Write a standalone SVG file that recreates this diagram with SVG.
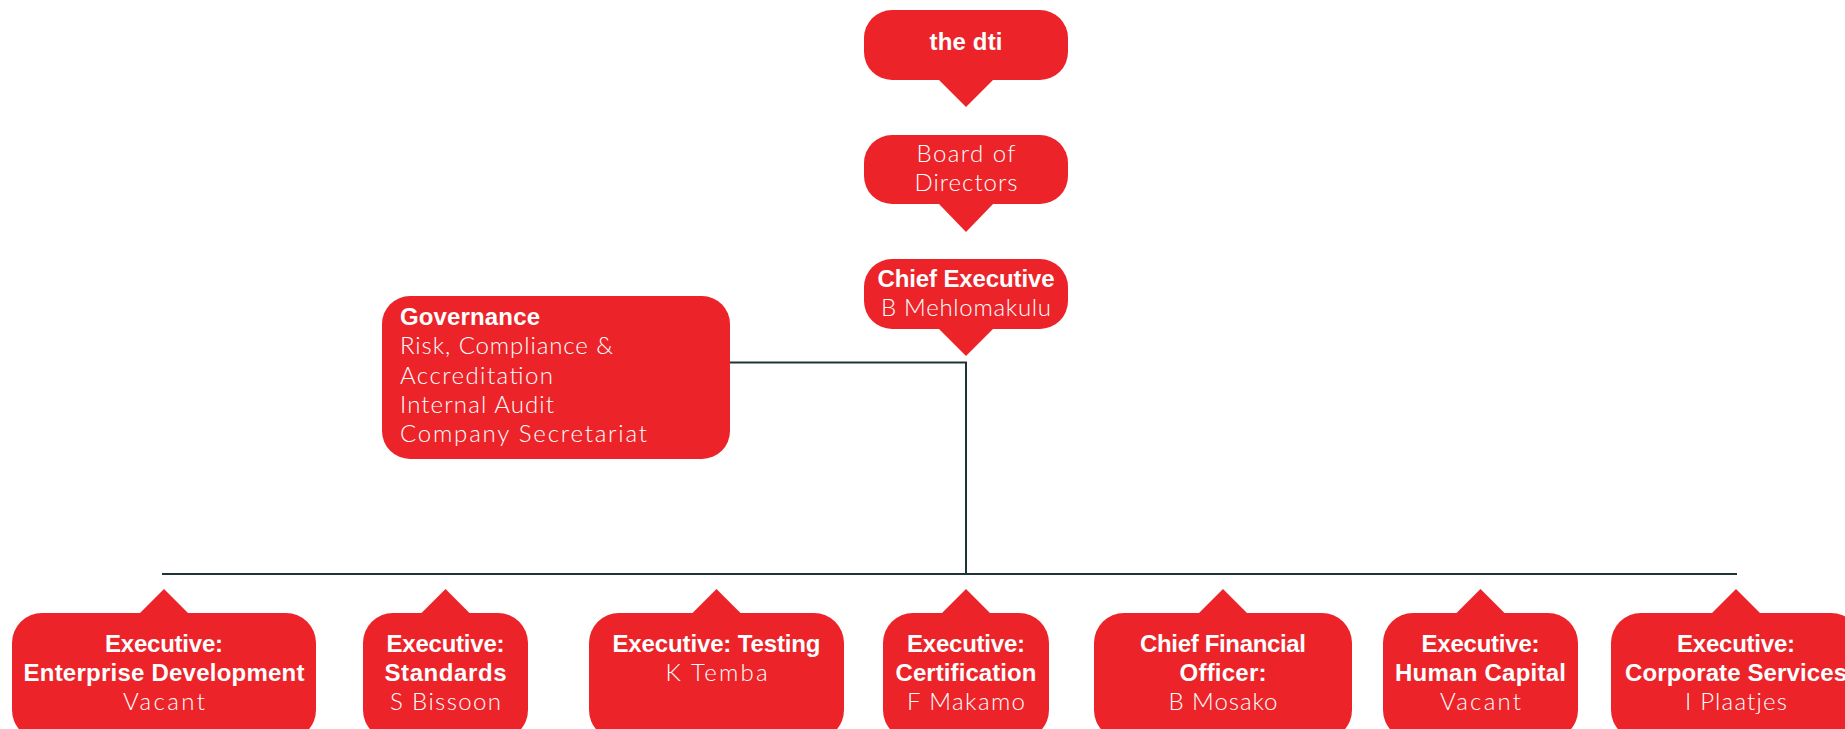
<svg xmlns="http://www.w3.org/2000/svg" width="1845" height="729" viewBox="0 0 1845 729">
  <style>
    .box { fill: #ec242a; }
    .t { fill: #ffffff; font-family: "Liberation Sans", Arial, sans-serif; font-size: 24px; text-anchor: middle; }
    .b { font-weight: 700; }
    .l { font-family: Lato, "Liberation Sans", sans-serif; font-weight: 300; }
    .left { text-anchor: start; }
    .wire { fill: none; stroke: #1f3535; stroke-width: 2; }
  </style>
  <rect width="1845" height="729" fill="#ffffff"/>

  <!-- connectors -->
  <g id="connectors">
    <path class="wire" d="M730,362.5 H966 V574"/>
    <path class="wire" d="M162,574 H1737"/>
  </g>

  <!-- top chain -->
  <g id="dti">
    <rect class="box" x="864" y="10" width="204" height="70" rx="28"/>
    <polygon class="box" points="938,79 994,79 966,107"/>
    <text class="t b" x="966" y="50" textLength="73">the dti</text>
  </g>
  <g id="board">
    <rect class="box" x="864" y="135" width="204" height="69" rx="28"/>
    <polygon class="box" points="938,203 994,203 966,232"/>
    <text class="t l" x="966" y="162" textLength="99">Board of</text>
    <text class="t l" x="966" y="191" textLength="103">Directors</text>
  </g>
  <g id="ceo">
    <rect class="box" x="864" y="259" width="204" height="70" rx="28"/>
    <polygon class="box" points="938,328 994,328 966,356"/>
    <text class="t b" x="966" y="287" textLength="177">Chief Executive</text>
    <text class="t l" x="966" y="316" textLength="170">B Mehlomakulu</text>
  </g>

  <g id="governance">
    <rect class="box" x="382" y="296" width="348" height="163" rx="28"/>
    <text class="t b left" x="400" y="325" textLength="140">Governance</text>
    <text class="t l left" x="400" y="354" textLength="213">Risk, Compliance &amp;</text>
    <text class="t l left" x="400" y="384" textLength="153">Accreditation</text>
    <text class="t l left" x="400" y="413" textLength="154">Internal Audit</text>
    <text class="t l left" x="400" y="442" textLength="247">Company Secretariat</text>
  </g>

  <!-- executive row -->
  <g id="enterprise">
    <rect class="box" x="12" y="613" width="304" height="127" rx="30"/>
    <polygon class="box" points="139,614 189,614 164,589"/>
    <text class="t b" x="164" y="652" textLength="118">Executive:</text>
    <text class="t b" x="164" y="681" textLength="281">Enterprise Development</text>
    <text class="t l" x="164" y="710" textLength="82">Vacant</text>
  </g>
  <g id="standards">
    <rect class="box" x="363" y="613" width="165" height="127" rx="30"/>
    <polygon class="box" points="420.5,614 470.5,614 445.5,589"/>
    <text class="t b" x="445.5" y="652" textLength="118">Executive:</text>
    <text class="t b" x="445.5" y="681" textLength="122">Standards</text>
    <text class="t l" x="445.5" y="710" textLength="111">S Bissoon</text>
  </g>
  <g id="testing">
    <rect class="box" x="589" y="613" width="255" height="127" rx="30"/>
    <polygon class="box" points="691.5,614 741.5,614 716.5,589"/>
    <text class="t b" x="716.5" y="652" textLength="208">Executive: Testing</text>
    <text class="t l" x="716.5" y="681" textLength="102">K Temba</text>
  </g>
  <g id="certification">
    <rect class="box" x="883" y="613" width="166" height="127" rx="30"/>
    <polygon class="box" points="941,614 991,614 966,589"/>
    <text class="t b" x="966" y="652" textLength="118">Executive:</text>
    <text class="t b" x="966" y="681" textLength="141">Certification</text>
    <text class="t l" x="966" y="710" textLength="118">F Makamo</text>
  </g>
  <g id="cfo">
    <rect class="box" x="1094" y="613" width="258" height="127" rx="30"/>
    <polygon class="box" points="1198,614 1248,614 1223,589"/>
    <text class="t b" x="1223" y="652" textLength="166">Chief Financial</text>
    <text class="t b" x="1223" y="681" textLength="87">Officer:</text>
    <text class="t l" x="1223" y="710" textLength="109">B Mosako</text>
  </g>
  <g id="human-capital">
    <rect class="box" x="1383" y="613" width="195" height="127" rx="30"/>
    <polygon class="box" points="1455.5,614 1505.5,614 1480.5,589"/>
    <text class="t b" x="1480.5" y="652" textLength="118">Executive:</text>
    <text class="t b" x="1480.5" y="681" textLength="171">Human Capital</text>
    <text class="t l" x="1480.5" y="710" textLength="81">Vacant</text>
  </g>
  <g id="corporate">
    <rect class="box" x="1611" y="613" width="250" height="127" rx="30"/>
    <polygon class="box" points="1711,614 1761,614 1736,589"/>
    <text class="t b" x="1736" y="652" textLength="118">Executive:</text>
    <text class="t b" x="1736" y="681" textLength="222">Corporate Services</text>
    <text class="t l" x="1736" y="710" textLength="102">I Plaatjes</text>
  </g>
</svg>
